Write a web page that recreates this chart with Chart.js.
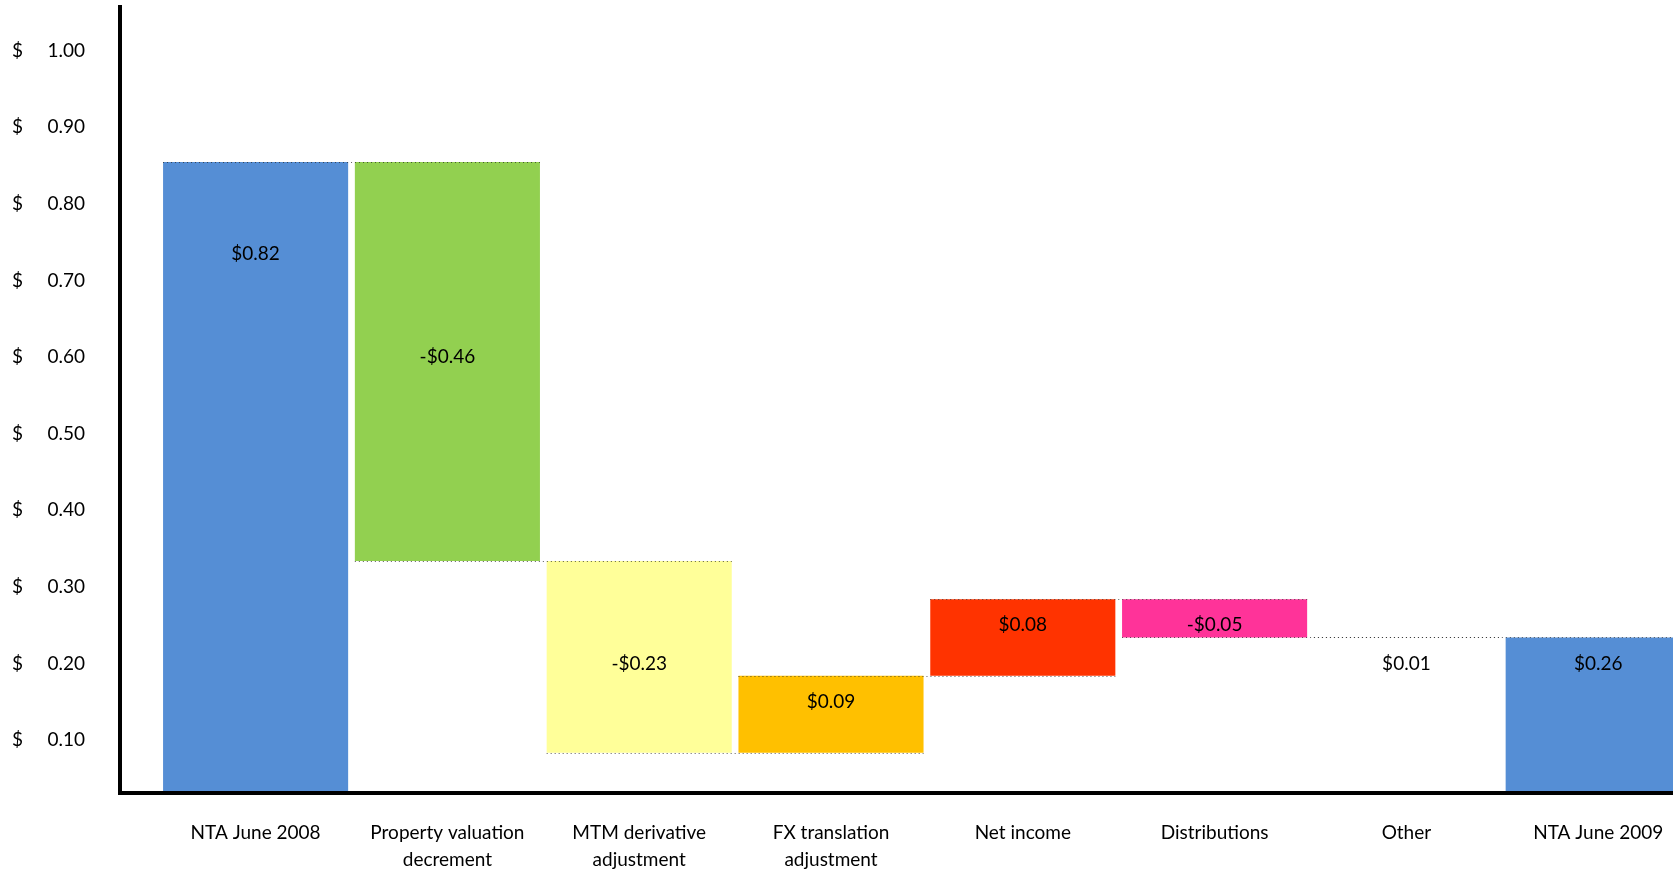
<!DOCTYPE html>
<html>
<head>
<meta charset="utf-8">
<script src="https://cdn.jsdelivr.net/npm/chart.js@4"></script>
<style>
  html, body { margin: 0; padding: 0; background: #ffffff; overflow: hidden; }
  #wrap { position: relative; width: 1673px; height: 870px; }
</style>
</head>
<body>
<div id="wrap"><canvas id="c"></canvas></div>
<script>
// ---- data ----
const categories = [
  ['NTA June 2008'],
  ['Property valuation', 'decrement'],
  ['MTM derivative', 'adjustment'],
  ['FX translation', 'adjustment'],
  ['Net income'],
  ['Distributions'],
  ['Other'],
  ['NTA June 2009']
];
const barFrom = [0,      0.8546, 0.3337, 0.0834, 0.1840, 0.2838, 0.2339, 0];
const barTo   = [0.8546, 0.3337, 0.0834, 0.1840, 0.2838, 0.2339, 0.2339, 0.2339];
const valueLabels = ['$0.82', '-$0.46', '-$0.23', '$0.09', '$0.08', '-$0.05', '$0.01', '$0.26'];
const labelAt = [0.735, 0.600, 0.200, 0.150, 0.250, 0.250, 0.200, 0.200];
const yTickValues = [0.1, 0.2, 0.3, 0.4, 0.5, 0.6, 0.7, 0.8, 0.9, 1.0];
const barColors = ['#558ED5', '#92D050', '#FFFF99', '#FFC000', '#FF3300', '#FF3399', 'rgba(0,0,0,0)', '#558ED5'];

const FONT = 'Lato, "Open Sans", sans-serif';

const waterfallPlugin = {
  id: 'waterfallExtras',
  afterDatasetsDraw(chart) {
    const ctx = chart.ctx;
    const meta = chart.getDatasetMeta(0);
    const y = chart.scales.y;
    // dotted connectors
    ctx.save();
    ctx.strokeStyle = 'rgba(40,40,40,0.75)';
    ctx.lineWidth = 1;
    ctx.setLineDash([1, 3]);
    for (let i = 0; i < meta.data.length - 1; i++) {
      const a = meta.data[i], b = meta.data[i + 1];
      const py = Math.round(y.getPixelForValue(barTo[i])) + 0.5;
      const x0 = a.x - a.width / 2;
      const x1 = b.x + b.width / 2;
      ctx.beginPath();
      ctx.moveTo(x0, py);
      ctx.lineTo(Math.min(x1, chart.chartArea.right), py);
      ctx.stroke();
    }
    ctx.restore();
    // value labels
    ctx.save();
    ctx.fillStyle = '#000000';
    ctx.font = '19px ' + FONT;
    ctx.textAlign = 'center';
    ctx.textBaseline = 'middle';
    meta.data.forEach((bar, i) => {
      ctx.fillText(valueLabels[i], bar.x, y.getPixelForValue(labelAt[i]));
    });
    ctx.restore();
  }
};

new Chart(document.getElementById('c'), {
  type: 'bar',
  data: {
    datasets: [{
      data: categories.map((c, i) => ({ x: i, y: [barFrom[i], barTo[i]] })),
      backgroundColor: barColors,
      borderWidth: 0,
      barPercentage: 0.965,
      categoryPercentage: 1,
      clip: 0
    }]
  },
  options: {
    responsive: true,
    maintainAspectRatio: false,
    animation: false,
    layout: { padding: { top: 7, left: 0, right: 0, bottom: 0 } },
    plugins: { legend: { display: false }, tooltip: { enabled: false } },
    scales: {
      x: {
        type: 'linear',
        offset: false,
        min: -0.707,
        max: 7.39,
        grid: { display: false, drawTicks: false, offset: false },
        border: { display: true, color: '#000000', width: 4, z: 1 },
        afterBuildTicks: s => { s.ticks = categories.map((c, i) => ({ value: i })); },
        afterFit: s => { s.height = 77; s.paddingLeft = 0; s.paddingRight = 0; },
        ticks: {
          autoSkip: false,
          maxRotation: 0,
          padding: 26,
          color: '#000000',
          font: { family: FONT, size: 19, lineHeight: 1.42 },
          callback: v => categories[Math.round(v)]
        }
      },
      y: {
        type: 'linear',
        min: 0.0308,
        max: 1.0569,
        grid: { display: false, drawTicks: false },
        border: { display: true, color: '#000000', width: 4, z: 1 },
        afterBuildTicks: s => { s.ticks = yTickValues.map(v => ({ value: v })); },
        afterFit: s => { s.width = 120; s.paddingTop = 0; s.paddingBottom = 0; },
        ticks: {
          padding: 35,
          color: '#000000',
          font: { family: FONT, size: 19 },
          callback: v => '$     ' + v.toFixed(2)
        }
      }
    }
  },
  plugins: [waterfallPlugin]
});
</script>
</body>
</html>
